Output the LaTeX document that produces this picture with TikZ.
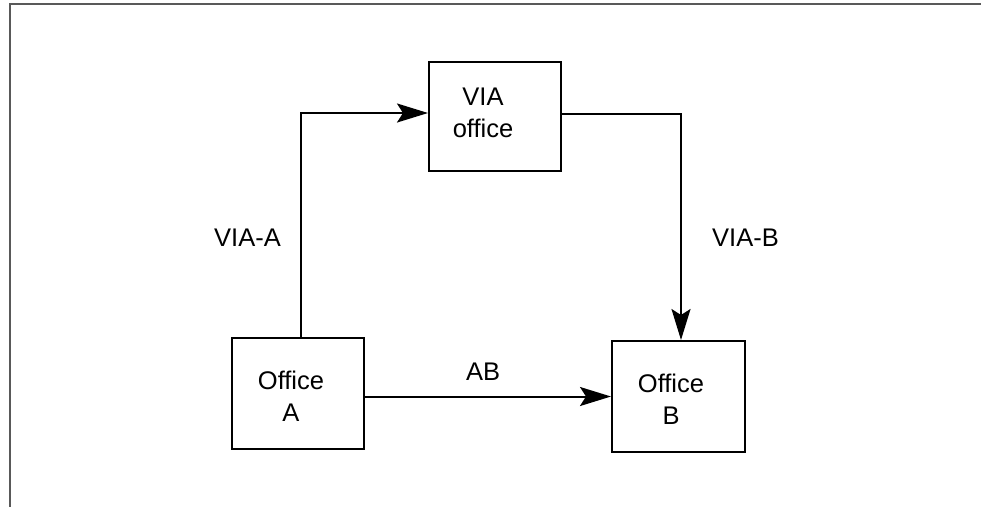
\documentclass[tikz,border=0pt]{standalone}
\usepackage{fontspec}
\setmainfont{Liberation Sans}
\usetikzlibrary{arrows.meta}
\begin{document}
\begin{tikzpicture}[x=1pt,y=-1pt,
  box/.style={draw=black,line width=2pt,inner sep=0pt},
  lbl/.style={font=\fontsize{25.5}{32}\selectfont,align=center,inner sep=0pt},
  conn/.style={line width=2pt,-{Stealth[length=31pt,width=19pt,inset=6pt]}}]
\useasboundingbox (0,0) rectangle (981,507);
\fill[white] (0,0) rectangle (981,507);
% frame
\coordinate (f1) at (981,4);
\coordinate (f2) at (9.5,4);
\coordinate (f3) at (9.5,507);
\draw[gray!70!black,line width=2pt] (f1) -- (f2) -- (f3);
% boxes
\node[box,minimum width=132pt,minimum height=109pt] (via) at (495,116.5) {};
\node[box,minimum width=132pt,minimum height=111pt] (oa) at (298,393.5) {};
\node[box,minimum width=133pt,minimum height=111pt] (ob) at (678.5,396.5) {};
% texts
\node[lbl] (tvia) at (483,113) {VIA\\office};
\node[lbl] (toa) at (291,396) {Office\\A};
\node[lbl] (tob) at (671,399) {Office\\B};
\node[lbl] (lva) at (247.5,238) {VIA-A};
\node[lbl] (lvb) at (745.5,238) {VIA-B};
\node[lbl] (lab) at (483,372) {AB};
% connectors
\draw[conn] (oa.north -| 301,0) -- (301,113) -- (via.west |- 0,113);
\draw[conn] (via.east |- 0,114) -- (681,114) -- (ob.north -| 681,0);
\draw[conn] (oa.east |- 0,396.5) -- (ob.west |- 0,396.5);
\end{tikzpicture}
\end{document}
